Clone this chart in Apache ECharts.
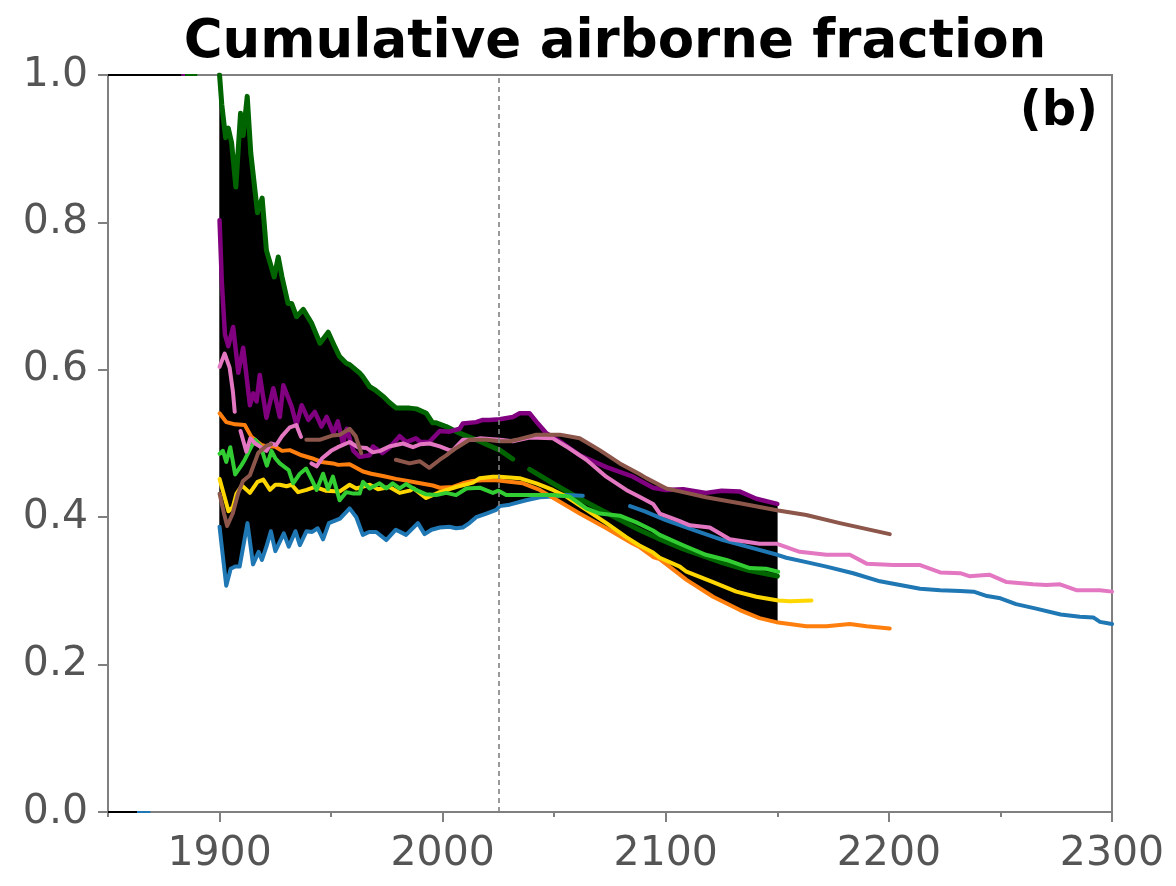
<!DOCTYPE html>
<html>
<head>
<meta charset="utf-8">
<script src="https://cdn.jsdelivr.net/npm/echarts@6/dist/echarts.min.js"></script>
<style>html,body{margin:0;padding:0;background:#fff}#c{width:1176px;height:886px}</style>
</head>
<body>
<div id="c"></div>
<script>
// ---- data (year, cumulative airborne fraction) ----
const xMajorTicks = [1900, 2000, 2100, 2200, 2300];
const xMinorTicks = [1850, 1950, 2050, 2150, 2250];
const referenceYear = 2025;
const envelopeStart = 1900;
const envelopeEnd = 2150;

const blue = [[1900,0.387],[1901,0.36],[1903,0.307],[1905,0.33],[1907,0.333],[1909,0.333],[1912.5,0.392],[1915,0.336],[1917.5,0.353],[1919,0.342],[1921,0.36],[1923,0.381],[1925,0.354],[1928.8,0.378],[1931,0.36],[1934,0.381],[1936,0.362],[1939,0.381],[1941.5,0.38],[1944,0.385],[1946.4,0.37],[1949,0.392],[1954,0.398],[1958.3,0.412],[1961.3,0.4],[1964.2,0.376],[1967,0.38],[1970.2,0.38],[1974.7,0.369],[1979,0.383],[1983.6,0.376],[1988.9,0.392],[1991.9,0.377],[1995,0.383],[1998.7,0.386],[2003,0.387],[2006,0.385],[2009,0.386],[2012,0.392],[2015,0.4],[2019.6,0.405],[2024,0.41],[2025.6,0.415],[2030,0.417],[2037.4,0.423],[2043.5,0.427],[2049.4,0.428],[2055.4,0.43],[2062.8,0.429],[2070,null],[2084,0.415],[2090.6,0.408],[2100,0.396],[2112,0.383],[2125.6,0.369],[2137.7,0.359],[2150,0.349],[2154,0.345],[2163,0.339],[2172,0.333],[2184,0.324],[2196,0.313],[2205,0.308],[2214,0.303],[2223,0.301],[2232,0.3],[2238,0.299],[2244,0.293],[2250,0.29],[2257,0.282],[2266,0.276],[2277,0.268],[2285.6,0.265],[2291.6,0.264],[2294.6,0.258],[2300,0.255]];

const orange = [[1900,0.541],[1903,0.529],[1907,0.526],[1911.3,0.525],[1914.3,0.509],[1918.8,0.498],[1921,0.496],[1924.8,0.496],[1928,0.49],[1931.5,0.491],[1936.8,0.484],[1941.3,0.48],[1945.7,0.475],[1950.8,0.473],[1953.2,0.471],[1958.3,0.472],[1964.3,0.462],[1968,0.459],[1973.2,0.456],[1979.1,0.452],[1983,0.45],[1988.1,0.447],[1995.6,0.443],[1998.7,0.44],[2004.6,0.441],[2009,0.446],[2013,0.449],[2018,0.45],[2024,0.45],[2030,0.448],[2036,0.446],[2043.5,0.437],[2052.5,0.421],[2061.4,0.405],[2073.4,0.385],[2085.3,0.364],[2088,0.36],[2094.3,0.346],[2097.3,0.343],[2106.3,0.322],[2109.3,0.315],[2121.2,0.292],[2133.2,0.274],[2142,0.263],[2150.4,0.257],[2163,0.252],[2172,0.252],[2182.5,0.255],[2190,0.252],[2200.4,0.249]];

const yellow = [[1900,0.452],[1902,0.43],[1904,0.408],[1906,0.414],[1907.6,0.432],[1910,0.443],[1913.6,0.433],[1917,0.448],[1919.6,0.451],[1922.6,0.437],[1925,0.444],[1927,0.444],[1930,0.442],[1932.3,0.444],[1935.2,0.434],[1939,0.437],[1942.8,0.441],[1947.5,0.436],[1953.9,0.435],[1958.3,0.444],[1961.3,0.439],[1967.3,0.444],[1971,0.438],[1976.2,0.441],[1980.7,0.433],[1985.2,0.436],[1987,0.439],[1992.6,0.426],[1998.7,0.434],[2006,0.441],[2013.6,0.447],[2016.6,0.453],[2022.5,0.455],[2025.6,0.455],[2030,0.454],[2034.5,0.453],[2042,0.446],[2049.4,0.437],[2055.4,0.428],[2064.4,0.41],[2073.4,0.392],[2082.3,0.373],[2088,0.362],[2094.3,0.352],[2097.3,0.345],[2106.3,0.333],[2109.3,0.326],[2121.2,0.312],[2131.6,0.299],[2140.6,0.292],[2150.4,0.287],[2155.6,0.286],[2165.3,0.287]];

const limeGreen = [[1900,0.486],[1901.5,0.49],[1903,0.475],[1904.8,0.495],[1907,0.458],[1909.7,0.47],[1911.3,0.478],[1914.3,0.496],[1916,0.505],[1918.4,0.496],[1921.2,0.47],[1923.3,0.49],[1925,0.48],[1927,0.473],[1931,0.464],[1933,0.446],[1936,0.459],[1938.8,0.466],[1941.5,0.45],[1943.5,0.437],[1946.4,0.459],[1948.6,0.438],[1950.8,0.455],[1953.8,0.423],[1956.8,0.434],[1960,0.432],[1962.8,0.432],[1964.3,0.448],[1967.3,0.439],[1971.7,0.446],[1974.7,0.439],[1977.6,0.446],[1980.7,0.439],[1983.6,0.445],[1988,0.437],[1992.6,0.431],[1997.1,0.43],[2001.6,0.433],[2006,0.43],[2010.6,0.439],[2016.6,0.44],[2022.5,0.433],[2025,0.436],[2028.5,0.43],[2037.4,0.43],[2049.4,0.43],[2056.9,0.428],[2064.4,0.412],[2070.4,0.405],[2079.4,0.402],[2086.8,0.393],[2094.3,0.382],[2097.3,0.376],[2107.8,0.362],[2118,0.349],[2127.2,0.342],[2137.7,0.331],[2145,0.33],[2150.4,0.326]];

const darkGreen = [[1900,1.0],[1901,0.96],[1902.7,0.915],[1903.9,0.928],[1905.4,0.908],[1907.3,0.848],[1909.4,0.948],[1910.6,0.918],[1912.4,0.971],[1914,0.894],[1917,0.813],[1919.1,0.833],[1921,0.762],[1924.5,0.726],[1926.3,0.753],[1928,0.726],[1930.7,0.69],[1932.3,0.69],[1934.5,0.672],[1937.5,0.682],[1941.3,0.663],[1945,0.636],[1948.7,0.651],[1951.7,0.631],[1953.8,0.618],[1956.8,0.609],[1958.3,0.607],[1963,0.595],[1964.1,0.591],[1967.3,0.577],[1970,0.572],[1973.3,0.564],[1976,0.556],[1979.2,0.548],[1982,0.548],[1985.2,0.548],[1988.2,0.547],[1992.7,0.541],[1995.5,0.528],[1997.1,0.528],[2001.6,0.523],[2007.6,0.514],[2015,0.505],[2021,0.497],[2025.6,0.491],[2031.4,0.479],[2035,null],[2039,0.465],[2050,0.445],[2061.4,0.425],[2076,0.402],[2088,0.383],[2096,0.372],[2107.8,0.357],[2125.6,0.338],[2137,0.328],[2150,0.32]];

const pink = [[1900,0.604],[1902.3,0.622],[1904.5,0.603],[1906,0.57],[1906.8,0.543],[1908,null],[1909.4,0.517],[1912,0.489],[1913.8,0.507],[1916,0.5],[1918,0.496],[1921,0.49],[1923,0.5],[1925.4,0.498],[1928,0.51],[1931.5,0.522],[1934.4,0.525],[1936.5,0.509],[1938.5,null],[1941.2,0.473],[1943.5,0.469],[1946,0.48],[1950,0.49],[1953,0.495],[1956.8,0.5],[1958.3,0.502],[1962,0.495],[1965.8,0.494],[1968.7,0.488],[1972,0.49],[1976,0.496],[1982.2,0.5],[1986.7,0.495],[1990,0.499],[1994.2,0.5],[1998.7,0.496],[2003,0.491],[2004.6,0.491],[2009,0.505],[2013.6,0.505],[2016.6,0.507],[2025.6,0.505],[2031.4,0.503],[2039,0.508],[2049.4,0.507],[2055.4,0.496],[2064.4,0.478],[2073.3,0.455],[2082.3,0.437],[2088,0.428],[2094.3,0.418],[2097.3,0.405],[2106,0.395],[2110.8,0.389],[2119.7,0.386],[2128.7,0.37],[2142,0.364],[2149.6,0.364],[2160,0.353],[2172,0.349],[2182.5,0.349],[2190,0.337],[2202,0.335],[2214,0.335],[2223,0.325],[2232,0.324],[2236,0.32],[2245,0.322],[2252.8,0.312],[2264.6,0.309],[2270.6,0.308],[2276.7,0.309],[2284,0.301],[2294.6,0.301],[2300,0.299]];

const brown = [[1900,0.432],[1902,0.405],[1903.4,0.388],[1905.9,0.405],[1908.3,0.432],[1910.5,0.449],[1913.6,0.457],[1917.3,0.487],[1921,0.497],[1923.1,0.499],[1930,null],[1938.9,0.505],[1944.8,0.505],[1950.8,0.511],[1954,0.512],[1958.3,0.52],[1961,0.51],[1963.5,0.487],[1970,null],[1979,0.478],[1985.2,0.473],[1989.7,0.476],[1994,0.467],[1998.7,0.478],[2001.6,0.484],[2004.6,0.491],[2012,0.505],[2019.5,0.505],[2025.6,0.503],[2030,0.503],[2033,0.505],[2042,0.512],[2052.5,0.512],[2061.4,0.507],[2070.4,0.491],[2079.4,0.473],[2088,0.459],[2091.3,0.453],[2100.3,0.439],[2106.3,0.435],[2118,0.427],[2133.2,0.419],[2150.4,0.409],[2163,0.403],[2178,0.392],[2200.4,0.377]];

const purple = [[1900,0.803],[1901,0.72],[1902.4,0.648],[1903.9,0.632],[1906.1,0.658],[1908.4,0.596],[1910.6,0.63],[1913.6,0.552],[1915.1,0.568],[1916.6,0.557],[1918,0.593],[1921,0.535],[1924.1,0.575],[1927,0.536],[1928.6,0.579],[1932.3,0.55],[1934.5,0.525],[1936.8,0.552],[1939.8,0.532],[1942.7,0.543],[1945.7,0.523],[1948,0.536],[1951,0.514],[1953,0.53],[1955.3,0.5],[1957,0.52],[1960,0.49],[1962.8,0.482],[1967.3,0.484],[1968.7,0.496],[1973,0.487],[1976,0.494],[1980.7,0.51],[1983.7,0.502],[1988,0.507],[1990,0.502],[1994,0.502],[1998.7,0.517],[2003,0.516],[2007.6,0.52],[2009,0.527],[2015,0.529],[2018,0.532],[2021,0.532],[2025.6,0.533],[2031.5,0.536],[2034.5,0.541],[2039,0.541],[2042.7,0.527],[2046.5,0.514],[2054,0.5],[2061.4,0.484],[2073.4,0.468],[2085.3,0.455],[2094.3,0.44],[2100,0.437],[2107.8,0.438],[2118,0.433],[2125,0.436],[2133,0.435],[2140.6,0.425],[2150,0.418]];

// pre-1900 artefacts drawn on the frame
const preBlackTop = [[1850,1],[1883,1]];
const prePurpleTop = [[1883,1],[1884.5,1]];
const preGreenTop = [[1884.5,1],[1890,1]];
const preBlackBottom = [[1850,0],[1863,0]];
const preBlueBottom = [[1863,0],[1869,0]];

const lineSeries = [
  {name:'darkgreen', data:darkGreen, color:'#006400', width:5},
  {name:'purple', data:purple, color:'#800080', width:4.5},
  {name:'blue', data:blue, color:'#1f77b4', width:4},
  {name:'orange', data:orange, color:'#ff7f0e', width:4},
  {name:'yellow', data:yellow, color:'#ffd700', width:4},
  {name:'limegreen', data:limeGreen, color:'#32cd32', width:4},
  {name:'pink', data:pink, color:'#e377c2', width:4},
  {name:'brown', data:brown, color:'#8c564b', width:4}
];

// ---- envelope (min/max across models) ----
function interp(pts, x) {
  const p = pts.filter(d => d[1] !== null);
  if (x < p[0][0] || x > p[p.length-1][0]) return null;
  for (let i = 0; i < p.length - 1; i++) {
    if (x >= p[i][0] && x <= p[i+1][0]) {
      const t = (x - p[i][0]) / (p[i+1][0] - p[i][0] || 1);
      return p[i][1] + t * (p[i+1][1] - p[i][1]);
    }
  }
  return p[p.length-1][1];
}
const upper = [], lower = [];
for (let x = envelopeStart; x <= envelopeEnd + 1e-9; x += 0.25) {
  const vals = lineSeries.map(s => interp(s.data, x)).filter(v => v !== null);
  if (!vals.length) continue;
  upper.push([x, Math.max(...vals)]);
  lower.push([x, Math.min(...vals)]);
}

const chart = echarts.init(document.getElementById('c'), null, {renderer:'canvas'});
const FONT = 'DejaVu Sans';
const series = [];
series.push({
  type:'custom', xAxisIndex:0, yAxisIndex:0, silent:true, z:1, clip:true,
  data:[[envelopeStart, 0.5]],
  renderItem: function(params, api) {
    const pts = [];
    upper.forEach(d => pts.push(api.coord(d)));
    for (let i = lower.length - 1; i >= 0; i--) pts.push(api.coord(lower[i]));
    return {type:'polygon', shape:{points:pts}, style:{fill:'#000000', stroke:'#000000', lineWidth:0.5}};
  }
});
lineSeries.forEach(s => series.push({
  type:'line', name:s.name, data:s.data, showSymbol:false, symbol:'none', z:3,
  connectNulls:false, animation:false, clip:true,
  lineStyle:{color:s.color, width:s.width, cap:'round', join:'round'}
}));
[[preBlackTop,'#000000'],[prePurpleTop,'#800080'],[preGreenTop,'#006400'],[preBlackBottom,'#000000'],[preBlueBottom,'#1f77b4']].forEach(([d,c]) =>
  series.push({type:'line', data:d, showSymbol:false, symbol:'none', z:2, clip:false, animation:false, lineStyle:{color:c, width:2}}));
series.push({
  type:'line', data:[], z:10, animation:false,
  markLine:{silent:true, symbol:['none','none'], label:{show:false}, animation:false,
    lineStyle:{color:'#808080', type:[5,4], width:1.6},
    data:[{xAxis: referenceYear}]}
});

chart.setOption({
  animation:false,
  backgroundColor:'#ffffff',
  title:[
    {text:'Cumulative airborne fraction', left:610, textAlign:'center', top:12,
     textStyle:{fontFamily:FONT, fontWeight:'bold', fontSize:53, color:'#000'}},
    {text:'(b)', right:73, top:84,
     textStyle:{fontFamily:FONT, fontWeight:'bold', fontSize:48, color:'#000'}}
  ],
  grid:{left:108, right:64, top:75, bottom:74, show:true, borderColor:'#808080', borderWidth:2, backgroundColor:'transparent'},
  xAxis:[
    {type:'value', min:1850, max:2300, position:'bottom',
     axisLine:{show:true, onZero:false, lineStyle:{color:'#808080', width:2}},
     axisTick:{show:true, customValues:xMajorTicks, length:10, lineStyle:{color:'#808080', width:2}},
     axisLabel:{show:true, customValues:xMajorTicks, fontFamily:FONT, fontSize:41, color:'#555555', margin:22, formatter:v => String(v)},
     splitLine:{show:false}},
    {type:'value', min:1850, max:2300, position:'bottom', offset:0,
     axisLine:{show:false, onZero:false},
     axisTick:{show:true, customValues:xMinorTicks, length:5, lineStyle:{color:'#808080', width:2}},
     axisLabel:{show:false}, splitLine:{show:false}}
  ],
  yAxis:{type:'value', min:0, max:1, interval:0.2,
    axisLine:{show:true, onZero:false, lineStyle:{color:'#808080', width:2}},
    axisTick:{show:true, length:10, lineStyle:{color:'#808080', width:2}},
    axisLabel:{fontFamily:FONT, fontSize:41, color:'#555555', margin:20, formatter:v => v.toFixed(1)},
    splitLine:{show:false}},
  series: series
});
</script>
</body>
</html>
